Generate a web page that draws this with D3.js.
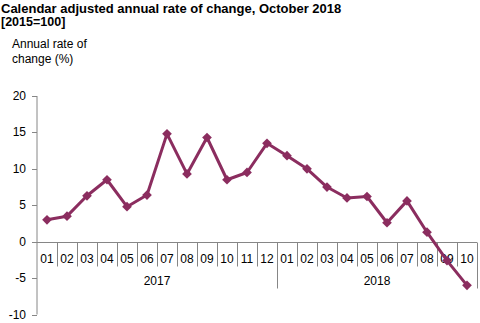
<!DOCTYPE html>
<html>
<head>
<meta charset="utf-8">
<title>Calendar adjusted annual rate of change</title>
<script src="https://cdn.jsdelivr.net/npm/d3@7"></script>
<style>
body{margin:0;background:#fff;}
svg{display:block;font-family:"Liberation Sans",Arial,sans-serif;}
</style>
</head>
<body>
<svg id="chart" width="480" height="323"></svg>
<script>
// months shown on the axis, with the year they belong to
var months = ["01","02","03","04","05","06","07","08","09","10","11","12",
              "01","02","03","04","05","06","07","08","09","10"];
var years = ["2017","2018"];
var yearLen = [12,10];
// annual rate of change (%)
var rates = [3.0,3.5,6.3,8.5,4.8,6.4,14.8,9.3,14.3,8.5,9.5,13.5,
             11.8,10.0,7.5,6.0,6.2,2.6,5.6,1.3,-2.6,-6.0];
var yTicks = [20,15,10,5,0,-5,-10];

var col = "#8b2d5f", axisCol = "#868686";
var svg = d3.select("#chart");

svg.append("text").attr("x",1).attr("y",13).style("font-weight","bold").style("font-size","13px")
  .text("Calendar adjusted annual rate of change, October 2018");
svg.append("text").attr("x",1).attr("y",26).style("font-weight","bold").style("font-size","12.5px")
  .text("[2015=100]");
svg.append("text").attr("x",12).attr("y",48).style("font-size","12px").text("Annual rate of");
svg.append("text").attr("x",12).attr("y",63).style("font-size","12px").text("change (%)");

var left = 37, right = 477;
var x = d3.scaleBand().domain(d3.range(months.length)).range([left,right]);
var y = d3.scaleLinear().domain([-10,20]).range([314.5,96]);

// y axis
var gy = svg.append("g").attr("transform","translate("+left+",0)");
gy.append("line").attr("y1",y(20)).attr("y2",y(-10)).attr("stroke",axisCol);
gy.selectAll(".yt").data(yTicks).enter().append("line")
  .attr("x1",-5).attr("x2",0).attr("y1",function(d){return Math.round(y(d))+0.5;})
  .attr("y2",function(d){return Math.round(y(d))+0.5;}).attr("stroke",axisCol);
gy.selectAll(".yl").data(yTicks).enter().append("text")
  .attr("x",-11).attr("y",function(d){return y(d)+4;}).attr("text-anchor","end")
  .style("font-size","12px").text(function(d){return d;});

// x axis at zero
var y0 = Math.round(y(0))+0.5;
svg.append("line").attr("x1",left).attr("x2",right).attr("y1",y0).attr("y2",y0).attr("stroke",axisCol);
// month separators
svg.selectAll(".sep").data(d3.range(1,months.length)).enter().append("line")
  .attr("x1",function(d){return Math.round(x(d))+0.5;}).attr("x2",function(d){return Math.round(x(d))+0.5;})
  .attr("y1",y0).attr("y2",y0+24).attr("stroke",axisCol);
// year separators
var yrEdges = [0,12,22];
svg.selectAll(".ysep").data([12,22]).enter().append("line")
  .attr("x1",function(d){return Math.round(left+d*x.bandwidth())+0.5;})
  .attr("x2",function(d){return Math.round(left+d*x.bandwidth())+0.5;})
  .attr("y1",y0).attr("y2",y0+46).attr("stroke",axisCol);
svg.selectAll(".ml").data(months).enter().append("text")
  .attr("x",function(d,i){return x(i)+x.bandwidth()/2;}).attr("y",y0+20)
  .attr("text-anchor","middle").style("font-size","12px").text(function(d){return d;});
svg.selectAll(".yrl").data(years).enter().append("text")
  .attr("x",function(d,i){return left+(yrEdges[i]+yearLen[i]/2)*x.bandwidth();}).attr("y",y0+42)
  .attr("text-anchor","middle").style("font-size","12px").text(function(d){return d;});

// series
var line = d3.line().x(function(d,i){return x(i)+x.bandwidth()/2;}).y(function(d){return y(d);});
svg.append("path").datum(rates).attr("d",line).attr("fill","none").attr("stroke",col)
  .attr("stroke-width",3).attr("stroke-linejoin","round");
svg.selectAll(".pt").data(rates).enter().append("path")
  .attr("d",d3.symbol().type(d3.symbolDiamond2).size(60))
  .attr("transform",function(d,i){return "translate("+(x(i)+x.bandwidth()/2)+","+y(d)+")";})
  .attr("fill",col);
</script>
</body>
</html>
